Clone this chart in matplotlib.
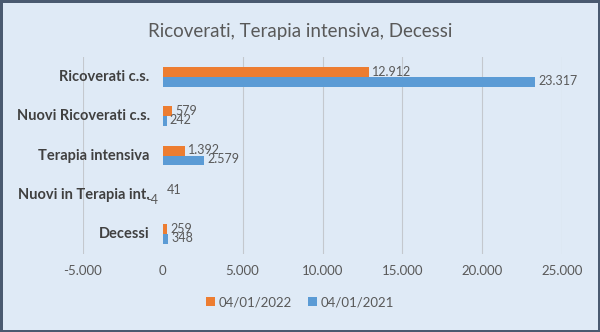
import numpy as np
import matplotlib
matplotlib.use('Agg')
import matplotlib.pyplot as plt
from matplotlib.transforms import offset_copy

# Data
categories = ['Ricoverati c.s.', 'Nuovi Ricoverati c.s.', 'Terapia intensiva',
              'Nuovi in Terapia int.', 'Decessi']
val_2022 = [12912, 579, 1392, 41, 259]
val_2021 = [23317, 242, 2579, -4, 348]
lab_2022 = ['12.912', '579', '1.392', '41', '259']
lab_2021 = ['23.317', '242', '2.579', '-4', '348']
series_names = ['04/01/2022', '04/01/2021']
xticks = [-5000, 0, 5000, 10000, 15000, 20000, 25000]
xtick_labels = ['-5.000', '0', '5.000', '10.000', '15.000', '20.000', '25.000']

plt.rcParams['font.family'] = ['Lato', 'DejaVu Sans']

bg = '#dfeaf6'
orange = '#ed7d31'
blue = '#5b9bd5'
txt = '#595959'

fig = plt.figure(figsize=(6, 3.32), dpi=100, facecolor=bg,
                 edgecolor='#4a5a70', linewidth=2.5)
ax = fig.add_axes([0.138, 0.235, 0.799, 0.593])
ax.set_facecolor(bg)

y = np.arange(len(categories))[::-1]
h = 0.25
ax.barh(y + h / 2, val_2022, height=h, color=orange, label=series_names[0], zorder=3)
ax.barh(y - h / 2, val_2021, height=h, color=blue, label=series_names[1], zorder=3)

# data labels
for yi, v, s in zip(y, val_2022, lab_2022):
    ax.text(v + 200, yi + 0.13, s, ha='left', va='center', fontsize=9, color=txt, zorder=4)
for yi, v, s in zip(y, val_2021, lab_2021):
    if v < 0:
        ax.text(v - 250, yi - 0.12, s, ha='right', va='center', fontsize=9, color=txt, zorder=4)
    else:
        ax.text(v + 200, yi - 0.1, s, ha='left', va='center', fontsize=9, color=txt, zorder=4)

# category labels sit just left of the zero line
lab_tr = offset_copy(ax.transData, fig=fig, x=-13, y=0, units='dots')
for yi, c in zip(y, categories):
    ax.text(0, yi, c, transform=lab_tr, ha='right', va='center', fontsize=10.5,
            fontweight='bold', color='#404040', zorder=4)

ax.set_xlim(-5000, 25000)
ax.set_ylim(-0.5, 4.5)
for t in xticks:
    if t != 0:
        ax.axvline(t, color='#c4c8ce', linewidth=0.8, zorder=1)
ax.set_xticks(xticks)
ax.set_xticklabels(xtick_labels, fontsize=9.5, color=txt)
ax.set_yticks([])
ax.tick_params(axis='both', length=0)
ax.tick_params(axis='x', pad=8)
for sp in ax.spines.values():
    sp.set_visible(False)

fig.text(0.5, 0.905, 'Ricoverati, Terapia intensiva, Decessi', ha='center', va='center',
         fontsize=13.5, color=txt)

fig.legend(loc='center', bbox_to_anchor=(0.5, 0.09), ncol=2, frameon=False,
           fontsize=9.5, handlelength=0.7, handleheight=0.7, handletextpad=0.3,
           columnspacing=1.2, labelcolor=txt)

fig.savefig('out.png', dpi=100, facecolor=bg, edgecolor=fig.get_edgecolor())
